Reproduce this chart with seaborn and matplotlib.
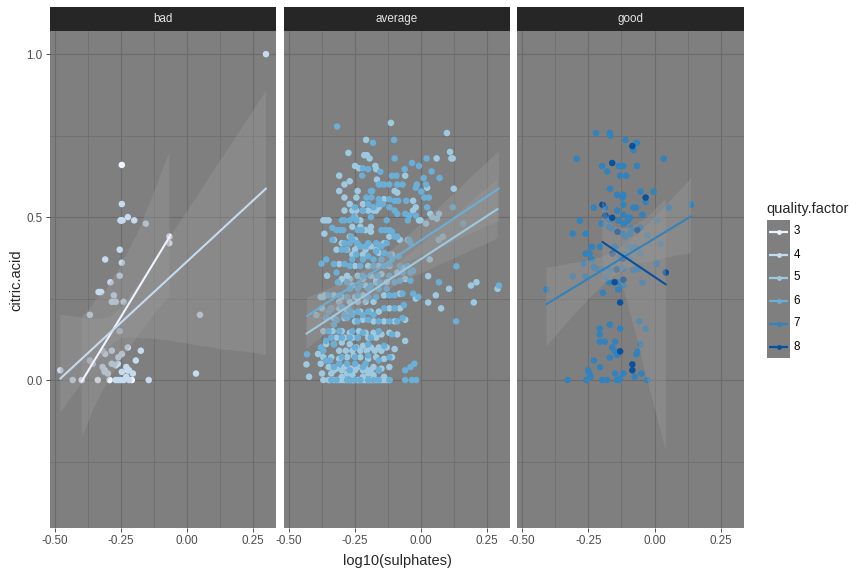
import numpy as np
import pandas as pd
import matplotlib
matplotlib.use("Agg")
import matplotlib.pyplot as plt
import seaborn as sns

sns.set_theme(style="dark")
plt.rcParams['font.family'] = ['Liberation Sans', 'DejaVu Sans']

# ---------------- data ----------------
panels = ["bad", "average", "good"]
quality_levels = [3, 4, 5, 6, 7, 8]
quality_panel = {3: "bad", 4: "bad", 5: "average", 6: "average", 7: "good", 8: "good"}
palette = {3: "#eff3ff", 4: "#c6dbef", 5: "#9ecae1", 6: "#6baed6", 7: "#3182bd", 8: "#08519c"}

q3_points = [(-0.399, 0.00), (-0.338, 0.00), (-0.312, 0.03), (-0.293, 0.00), (-0.247, 0.66),
             (-0.250, 0.49), (-0.224, 0.03), (-0.209, 0.00), (-0.067, 0.44), (-0.067, 0.42)]

q4_points = [(0.299, 1.00), (-0.247, 0.54), (-0.252, 0.49), (-0.244, 0.49), (-0.224, 0.50),
             (-0.200, 0.49), (-0.156, 0.48), (-0.255, 0.40), (-0.310, 0.37), (-0.247, 0.36),
             (-0.255, 0.32), (-0.290, 0.30), (-0.335, 0.27), (-0.330, 0.27), (-0.325, 0.27),
             (-0.277, 0.26), (-0.285, 0.24), (-0.270, 0.24), (-0.240, 0.24), (-0.368, 0.20),
             (0.049, 0.20), (-0.255, 0.15), (-0.224, 0.10), (-0.175, 0.09), (-0.320, 0.09),
             (-0.285, 0.09), (-0.310, 0.08), (-0.247, 0.08), (-0.260, 0.07), (-0.194, 0.06),
             (-0.368, 0.06), (-0.357, 0.05), (-0.285, 0.05), (-0.270, 0.045), (-0.262, 0.05),
             (-0.480, 0.03), (-0.320, 0.04), (-0.312, 0.025), (-0.300, 0.02), (-0.230, 0.04),
             (-0.220, 0.03), (-0.205, 0.02), (-0.247, 0.025), (0.034, 0.02), (-0.433, 0.00),
             (-0.270, 0.00), (-0.240, 0.00), (-0.145, 0.00), (-0.250, 0.00), (-0.230, 0.01),
             (-0.220, 0.00), (-0.260, 0.00)]

q5_points = [(-0.114, 0.789), (0.098, 0.758), (-0.208, 0.737), (-0.275, 0.697), (0.110, 0.70),
             (0.115, 0.68), (0.120, 0.68), (-0.215, 0.69), (-0.205, 0.69), (-0.195, 0.68),
             (0.059, 0.68), (-0.250, 0.657), (-0.235, 0.65), (-0.173, 0.657), (-0.170, 0.647),
             (-0.310, 0.627), (-0.167, 0.615), (-0.060, 0.627), (-0.270, 0.61), (-0.290, 0.60),
             (-0.100, 0.58), (-0.090, 0.575), (0.023, 0.59), (0.124, 0.587), (-0.310, 0.58),
             (-0.240, 0.58), (-0.290, 0.56), (-0.245, 0.56), (-0.140, 0.555), (-0.030, 0.55),
             (-0.270, 0.54), (-0.220, 0.54), (-0.160, 0.53), (-0.290, 0.52), (-0.260, 0.52),
             (-0.245, 0.52), (-0.220, 0.52), (-0.200, 0.52), (-0.180, 0.52), (-0.170, 0.52),
             (-0.030, 0.52), (-0.020, 0.53), (0.035, 0.51), (0.042, 0.50), (0.060, 0.495),
             (0.068, 0.51), (-0.008, 0.49), (-0.002, 0.49), (0.019, 0.48),
             (-0.370, 0.49), (-0.360, 0.49), (-0.350, 0.49), (-0.366, 0.449), (-0.250, 0.50),
             (-0.230, 0.49), (-0.210, 0.46), (-0.190, 0.455), (-0.270, 0.44), (-0.250, 0.43),
             (-0.330, 0.43), (-0.300, 0.42), (-0.240, 0.415), (-0.190, 0.41), (-0.140, 0.42),
             (-0.120, 0.44), (-0.080, 0.43), (-0.050, 0.43), (-0.320, 0.40), (-0.260, 0.385),
             (-0.220, 0.385), (-0.160, 0.39), (-0.110, 0.385), (0.033, 0.37), (0.067, 0.43),
             (0.083, 0.44), (-0.310, 0.356), (-0.250, 0.35), (-0.200, 0.35), (-0.160, 0.35),
             (-0.120, 0.35), (-0.070, 0.345), (0.027, 0.319), (-0.356, 0.32), (-0.280, 0.32),
             (-0.240, 0.32), (-0.190, 0.32), (-0.150, 0.325), (-0.090, 0.33), (-0.310, 0.30),
             (-0.260, 0.29), (-0.210, 0.29), (-0.170, 0.30), (-0.130, 0.30), (-0.060, 0.31),
             (0.189, 0.29), (0.210, 0.30), (0.290, 0.28), (0.106, 0.28), (-0.380, 0.255),
             (-0.370, 0.255), (-0.365, 0.26), (-0.330, 0.26), (-0.300, 0.255), (-0.250, 0.255),
             (-0.220, 0.26), (-0.140, 0.26), (-0.080, 0.265), (-0.020, 0.25), (0.056, 0.26),
             (-0.396, 0.199), (-0.375, 0.22), (-0.340, 0.22), (-0.310, 0.22), (-0.280, 0.21),
             (-0.260, 0.205), (-0.230, 0.21), (-0.190, 0.21), (-0.160, 0.21), (-0.120, 0.22),
             (-0.080, 0.22), (0.027, 0.238), (0.076, 0.22), (0.200, 0.238), (-0.360, 0.19),
             (-0.330, 0.19), (-0.290, 0.19), (-0.250, 0.18), (-0.220, 0.185), (-0.180, 0.18),
             (-0.140, 0.18), (-0.100, 0.18), (-0.060, 0.185), (-0.370, 0.15), (-0.335, 0.15),
             (-0.300, 0.15), (-0.270, 0.145), (-0.235, 0.15), (-0.210, 0.145), (-0.180, 0.145),
             (-0.150, 0.14), (-0.120, 0.145), (-0.090, 0.14), (-0.060, 0.12), (-0.360, 0.11),
             (-0.330, 0.11), (-0.300, 0.115), (-0.270, 0.11), (-0.245, 0.10), (-0.220, 0.105),
             (-0.190, 0.10), (-0.160, 0.10), (-0.130, 0.10), (-0.100, 0.095), (-0.390, 0.08),
             (-0.370, 0.07), (-0.340, 0.07), (-0.310, 0.065), (-0.280, 0.07), (-0.255, 0.075),
             (-0.230, 0.07), (-0.200, 0.065), (-0.170, 0.07), (-0.140, 0.065), (-0.110, 0.07),
             (-0.380, 0.05), (-0.434, 0.048), (-0.424, 0.01), (-0.350, 0.04), (-0.320, 0.035),
             (-0.290, 0.04), (-0.265, 0.035), (-0.240, 0.04), (-0.210, 0.035), (-0.180, 0.04),
             (-0.150, 0.035), (-0.120, 0.04), (-0.350, 0.00), (-0.330, 0.00), (-0.310, 0.00),
             (-0.290, 0.00), (-0.270, 0.00), (-0.255, 0.00), (-0.240, 0.00), (-0.225, 0.00),
             (-0.210, 0.00), (-0.190, 0.00), (-0.170, 0.00), (-0.150, 0.00), (-0.130, 0.00),
             (-0.370, 0.00), (-0.375, 0.02), (-0.300, 0.01), (-0.260, 0.015), (-0.220, 0.01),
             (-0.180, 0.015), (-0.140, 0.01), (-0.340, 0.02), (-0.280, 0.02), (-0.200, 0.02),
             (-0.345, 0.00), (-0.320, 0.00), (-0.300, 0.00), (-0.280, 0.00), (-0.260, 0.00),
             (-0.235, 0.00), (-0.215, 0.00), (-0.200, 0.00), (-0.180, 0.00), (-0.160, 0.00),
             (-0.140, 0.00), (-0.120, 0.00), (-0.330, 0.03), (-0.300, 0.03), (-0.270, 0.03),
             (-0.250, 0.03), (-0.220, 0.03), (-0.190, 0.03), (-0.160, 0.03), (-0.310, 0.09),
             (-0.285, 0.09), (-0.260, 0.09), (-0.230, 0.09), (-0.205, 0.09), (-0.175, 0.09),
             (-0.150, 0.09), (-0.320, 0.13), (-0.290, 0.13), (-0.260, 0.13), (-0.240, 0.13),
             (-0.200, 0.13), (-0.170, 0.13), (-0.310, 0.24), (-0.270, 0.24), (-0.240, 0.24),
             (-0.210, 0.24), (-0.180, 0.24), (-0.300, 0.31), (-0.270, 0.31), (-0.220, 0.31),
             (-0.170, 0.31), (-0.280, 0.40), (-0.250, 0.40), (-0.210, 0.40), (-0.170, 0.40),
             (-0.260, 0.47), (-0.230, 0.47), (-0.190, 0.47)]

q6_points = [(-0.318, 0.778), (-0.182, 0.728), (-0.102, 0.737), (-0.100, 0.68), (-0.034, 0.666),
             (-0.008, 0.657), (0.021, 0.68), (0.040, 0.640), (-0.220, 0.65), (-0.200, 0.647),
             (-0.154, 0.639), (-0.062, 0.647), (-0.223, 0.627), (-0.110, 0.627), (-0.093, 0.627),
             (-0.160, 0.60), (-0.155, 0.60), (-0.140, 0.60), (-0.120, 0.60), (-0.090, 0.60),
             (-0.070, 0.60), (-0.016, 0.60), (0.019, 0.60), (-0.020, 0.590), (-0.190, 0.58),
             (-0.185, 0.58), (0.001, 0.578), (0.010, 0.620), (-0.207, 0.56), (-0.188, 0.56),
             (-0.160, 0.555), (-0.120, 0.555), (-0.100, 0.55), (-0.086, 0.55), (-0.056, 0.55),
             (0.012, 0.56), (0.023, 0.53), (0.030, 0.560), (-0.250, 0.53), (-0.200, 0.54),
             (-0.180, 0.53), (-0.145, 0.54), (-0.120, 0.53), (-0.100, 0.52), (-0.090, 0.51),
             (-0.060, 0.51), (-0.045, 0.505), (-0.020, 0.505), (-0.050, 0.49), (-0.300, 0.49),
             (-0.290, 0.49), (-0.270, 0.49), (-0.255, 0.50), (-0.245, 0.49),
             (-0.336, 0.467), (-0.320, 0.46), (-0.305, 0.46), (-0.295, 0.46), (-0.240, 0.46),
             (-0.225, 0.46), (-0.150, 0.46), (-0.135, 0.46), (-0.120, 0.46), (-0.110, 0.455),
             (-0.265, 0.44), (-0.260, 0.43), (-0.100, 0.44), (-0.090, 0.44), (-0.045, 0.43),
             (-0.040, 0.42), (-0.336, 0.43), (-0.290, 0.42), (-0.270, 0.42), (-0.230, 0.41),
             (-0.210, 0.41), (-0.160, 0.415), (-0.150, 0.41), (-0.300, 0.40), (-0.285, 0.40),
             (-0.245, 0.385), (-0.200, 0.38), (-0.170, 0.395), (-0.140, 0.39), (-0.120, 0.385),
             (-0.085, 0.38), (-0.359, 0.37), (-0.377, 0.357), (-0.330, 0.356), (-0.290, 0.356),
             (-0.270, 0.35), (-0.230, 0.35), (-0.180, 0.35), (-0.140, 0.35), (-0.120, 0.355),
             (-0.080, 0.35), (-0.050, 0.35), (0.134, 0.349), (-0.320, 0.33), (-0.220, 0.32),
             (-0.165, 0.32), (-0.120, 0.32), (-0.070, 0.33), (-0.040, 0.33), (-0.030, 0.335),
             (-0.315, 0.30), (-0.280, 0.30), (-0.230, 0.29), (-0.190, 0.29), (-0.155, 0.30),
             (-0.100, 0.30), (-0.080, 0.305), (-0.040, 0.305), (0.068, 0.30), (0.295, 0.29),
             (-0.350, 0.26), (-0.310, 0.26), (-0.280, 0.255), (-0.240, 0.26), (-0.200, 0.255),
             (-0.170, 0.255), (-0.120, 0.26), (-0.100, 0.26), (-0.070, 0.265), (-0.030, 0.265),
             (-0.010, 0.255), (-0.340, 0.22), (-0.300, 0.225), (-0.270, 0.215), (-0.240, 0.21),
             (-0.200, 0.21), (-0.140, 0.22), (-0.100, 0.22), (-0.065, 0.23), (-0.350, 0.21),
             (-0.330, 0.17), (0.133, 0.18), (-0.360, 0.19), (-0.320, 0.185), (-0.280, 0.19),
             (-0.240, 0.18), (-0.200, 0.185), (-0.160, 0.18), (-0.120, 0.18), (-0.090, 0.18),
             (-0.070, 0.19), (-0.432, 0.079), (-0.350, 0.15), (-0.310, 0.15), (-0.260, 0.15),
             (-0.220, 0.145), (-0.160, 0.15), (-0.110, 0.14), (-0.340, 0.13), (-0.360, 0.12),
             (-0.330, 0.11), (-0.250, 0.10), (-0.200, 0.11), (-0.140, 0.105), (-0.380, 0.10),
             (-0.360, 0.06), (-0.300, 0.07), (-0.250, 0.07), (-0.200, 0.075), (-0.160, 0.06),
             (-0.120, 0.07), (-0.370, 0.09), (-0.040, 0.04), (-0.025, 0.05), (-0.330, 0.04),
             (-0.270, 0.03), (-0.220, 0.04), (-0.160, 0.03), (-0.345, 0.06), (-0.060, 0.03),
             (-0.340, 0.00), (-0.280, 0.00), (-0.230, 0.00), (-0.180, 0.00), (-0.120, 0.00),
             (-0.060, 0.00), (-0.035, 0.00), (-0.018, 0.00),
             (0.070, 0.62), (0.160, 0.48), (0.120, 0.53),
             (-0.220, 0.52), (-0.190, 0.50), (-0.160, 0.54), (-0.130, 0.49), (-0.240, 0.42),
             (-0.200, 0.42), (-0.170, 0.42), (-0.130, 0.42), (-0.260, 0.37), (-0.220, 0.37),
             (-0.180, 0.37), (-0.150, 0.37), (-0.110, 0.37), (-0.270, 0.28), (-0.240, 0.28),
             (-0.200, 0.28), (-0.160, 0.28), (-0.130, 0.28), (-0.290, 0.20), (-0.260, 0.20),
             (-0.220, 0.20), (-0.180, 0.20), (-0.300, 0.13), (-0.270, 0.13), (-0.240, 0.13),
             (-0.190, 0.13), (-0.310, 0.05), (-0.280, 0.05), (-0.250, 0.05), (-0.210, 0.05),
             (-0.320, 0.00), (-0.270, 0.00), (-0.250, 0.00), (-0.200, 0.00), (-0.160, 0.00)]

q7_points = [(-0.221, 0.758), (-0.169, 0.758), (-0.167, 0.75), (-0.110, 0.737), (-0.067, 0.728),
             (-0.080, 0.706), (-0.294, 0.679), (0.034, 0.679), (-0.198, 0.657), (-0.135, 0.657),
             (-0.127, 0.657), (-0.118, 0.657), (-0.067, 0.657), (-0.179, 0.64), (-0.130, 0.627),
             (-0.107, 0.627), (-0.168, 0.587), (-0.053, 0.578), (-0.004, 0.578), (-0.141, 0.568),
             (-0.118, 0.568), (-0.121, 0.56), (-0.034, 0.547), (-0.187, 0.529), (-0.229, 0.529),
             (-0.118, 0.538), (-0.080, 0.529), (-0.070, 0.529), (0.053, 0.529), (0.137, 0.538),
             (-0.141, 0.52), (-0.118, 0.507), (-0.046, 0.507), (-0.282, 0.489), (-0.180, 0.498),
             (-0.170, 0.492), (-0.100, 0.498), (-0.094, 0.498), (-0.200, 0.48), (-0.136, 0.489),
             (-0.115, 0.48), (-0.101, 0.489), (-0.309, 0.449), (-0.260, 0.449), (-0.172, 0.47),
             (-0.163, 0.465), (-0.120, 0.449), (-0.110, 0.44), (-0.093, 0.449), (-0.087, 0.465),
             (-0.054, 0.468), (-0.028, 0.444), (0.010, 0.49), (0.023, 0.418), (-0.237, 0.409),
             (-0.206, 0.409), (-0.151, 0.409), (-0.146, 0.404), (-0.100, 0.41), (-0.088, 0.404),
             (-0.074, 0.409), (-0.260, 0.388), (-0.245, 0.388), (-0.110, 0.388), (-0.053, 0.388),
             (-0.237, 0.37), (-0.130, 0.378), (-0.095, 0.373), (-0.268, 0.357), (0.008, 0.357),
             (-0.229, 0.347), (-0.220, 0.342), (-0.191, 0.342), (-0.169, 0.337), (-0.143, 0.342),
             (-0.118, 0.342), (-0.080, 0.337), (-0.062, 0.342), (-0.309, 0.318), (-0.261, 0.318),
             (-0.183, 0.318), (-0.172, 0.30), (-0.137, 0.30), (-0.118, 0.291), (-0.046, 0.299),
             (-0.408, 0.278), (-0.195, 0.268), (-0.137, 0.278),
             (-0.057, 0.180), (-0.207, 0.158), (-0.169, 0.170), (-0.130, 0.158), (-0.034, 0.158),
             (-0.207, 0.140), (-0.207, 0.118), (-0.188, 0.118), (-0.149, 0.118), (-0.053, 0.110),
             (-0.065, 0.087), (-0.160, 0.100), (-0.150, 0.088), (-0.141, 0.077), (-0.169, 0.069),
             (-0.069, 0.079), (-0.229, 0.060), (-0.206, 0.039), (-0.251, 0.030), (-0.246, 0.020),
             (-0.242, 0.010), (-0.258, 0.000), (-0.328, 0.000), (-0.198, 0.000), (-0.180, 0.000),
             (-0.142, 0.000), (-0.134, 0.000), (-0.131, 0.005), (-0.149, 0.020), (-0.118, 0.020),
             (-0.076, 0.010), (-0.050, 0.020), (-0.027, 0.000)]

q8_points = [(-0.084, 0.718), (-0.160, 0.666), (-0.034, 0.560), (-0.197, 0.538), (-0.160, 0.498),
             (-0.065, 0.460), (-0.159, 0.388), (-0.143, 0.339), (0.042, 0.330), (-0.118, 0.308),
             (-0.151, 0.300), (-0.130, 0.238), (-0.130, 0.088), (-0.084, 0.048), (-0.084, 0.030),
             (-0.186, 0.505), (-0.120, 0.372), (-0.140, 0.455)]

x_ticks = [-0.50, -0.25, 0.00, 0.25]
x_tick_labels = ["-0.50", "-0.25", "0.00", "0.25"]
x_minor = [-0.375, -0.125, 0.125]
y_ticks = [0.0, 0.5, 1.0]
y_tick_labels = ["0.0", "0.5", "1.0"]
y_minor = [-0.25, 0.25, 0.75]

all_points = {3: q3_points, 4: q4_points, 5: q5_points, 6: q6_points, 7: q7_points, 8: q8_points}
rows = []
for q in quality_levels:
    for (xv, yv) in all_points[q]:
        rows.append((xv, yv, q, quality_panel[q]))
df = pd.DataFrame(rows, columns=["log10_sulphates", "citric_acid", "quality", "panel"])

# ---------------- figure layout ----------------
W, H = 864, 576
fig = plt.figure(figsize=(W / 100, H / 100), dpi=100)
fig.patch.set_facecolor("white")

lefts = [50, 284, 517]
rights = [276, 510, 744]
top, bottom = 31, 528
strip_top = 7
xlim = (-0.519, 0.337)
ylim = (-0.454, 1.071)

for i, pname in enumerate(panels):
    ax = fig.add_axes([lefts[i] / W, 1 - bottom / H, (rights[i] - lefts[i]) / W, (bottom - top) / H])
    ax.set_facecolor("#7F7F7F")
    for s in ax.spines.values():
        s.set_visible(False)
    sub = df[df["panel"] == pname]
    qs = [q for q in quality_levels if quality_panel[q] == pname]
    sns.scatterplot(data=sub, x="log10_sulphates", y="citric_acid", hue="quality",
                    hue_order=qs, palette={q: palette[q] for q in qs},
                    s=22, linewidth=0, legend=False, ax=ax, zorder=2)
    for q in qs:
        n0 = len(ax.collections)
        sns.regplot(data=sub[sub["quality"] == q], x="log10_sulphates", y="citric_acid",
                    scatter=False, ci=95, color=palette[q], seed=7, truncate=True,
                    line_kws=dict(lw=1.5, zorder=4), ax=ax)
        for coll in ax.collections[n0:]:
            coll.set_facecolor("#999999")
            coll.set_alpha(0.4)
            coll.set_edgecolor("none")
            coll.set_zorder(3)
    ax.set_xlim(*xlim)
    ax.set_ylim(*ylim)
    ax.set_xticks(x_ticks)
    ax.set_xticklabels(x_tick_labels)
    ax.set_xticks(x_minor, minor=True)
    ax.set_yticks(y_ticks)
    ax.set_yticklabels(y_tick_labels)
    ax.set_yticks(y_minor, minor=True)
    ax.grid(True, which="major", color="#6B6B6B", lw=0.8)
    ax.grid(True, which="minor", color="#6B6B6B", lw=0.5)
    ax.set_axisbelow(True)
    ax.tick_params(which="major", length=3.2, width=0.6, color="#333333",
                   labelsize=8.4, labelcolor="#4D4D4D", pad=2,
                   bottom=True, left=(i == 0), labelleft=(i == 0))
    ax.tick_params(which="minor", length=0)
    ax.set_xlabel("")
    ax.set_ylabel("")

    sax = fig.add_axes([lefts[i] / W, 1 - top / H, (rights[i] - lefts[i]) / W, (top - strip_top) / H])
    sax.set_facecolor("#262626")
    sax.set_xticks([])
    sax.set_yticks([])
    for s in sax.spines.values():
        s.set_visible(False)
    sax.text(0.5, 0.5, pname, ha="center", va="center", color="#E5E5E5",
             fontsize=8.4, transform=sax.transAxes)

fig.text(397 / W, 1 - 561 / H, "log10(sulphates)", ha="center", va="center", fontsize=10.5)
fig.text(16 / W, 1 - 280 / H, "citric.acid", ha="center", va="center", rotation=90, fontsize=10.5)

# ---------------- legend ----------------
fig.text(766 / W, 1 - 209 / H, "quality.factor", ha="left", va="center", fontsize=10.5)
lax = fig.add_axes([767 / W, 1 - 358 / H, 23 / W, 138 / H])
lax.set_facecolor("#7F7F7F")
lax.set_xlim(0, 1)
lax.set_ylim(0, 6)
lax.set_xticks([])
lax.set_yticks([])
for s in lax.spines.values():
    s.set_visible(False)
for k, q in enumerate(quality_levels):
    yy = 5.5 - k
    lax.plot([0.1, 0.9], [yy, yy], color=palette[q], lw=1.6, solid_capstyle="butt")
    lax.plot([0.5], [yy], marker="o", ms=3.5, color=palette[q], mew=0)
    lax.text(1.15, yy, str(q), ha="left", va="center", fontsize=8.4, color="black", clip_on=False)

fig.savefig("out.png", dpi=100)
